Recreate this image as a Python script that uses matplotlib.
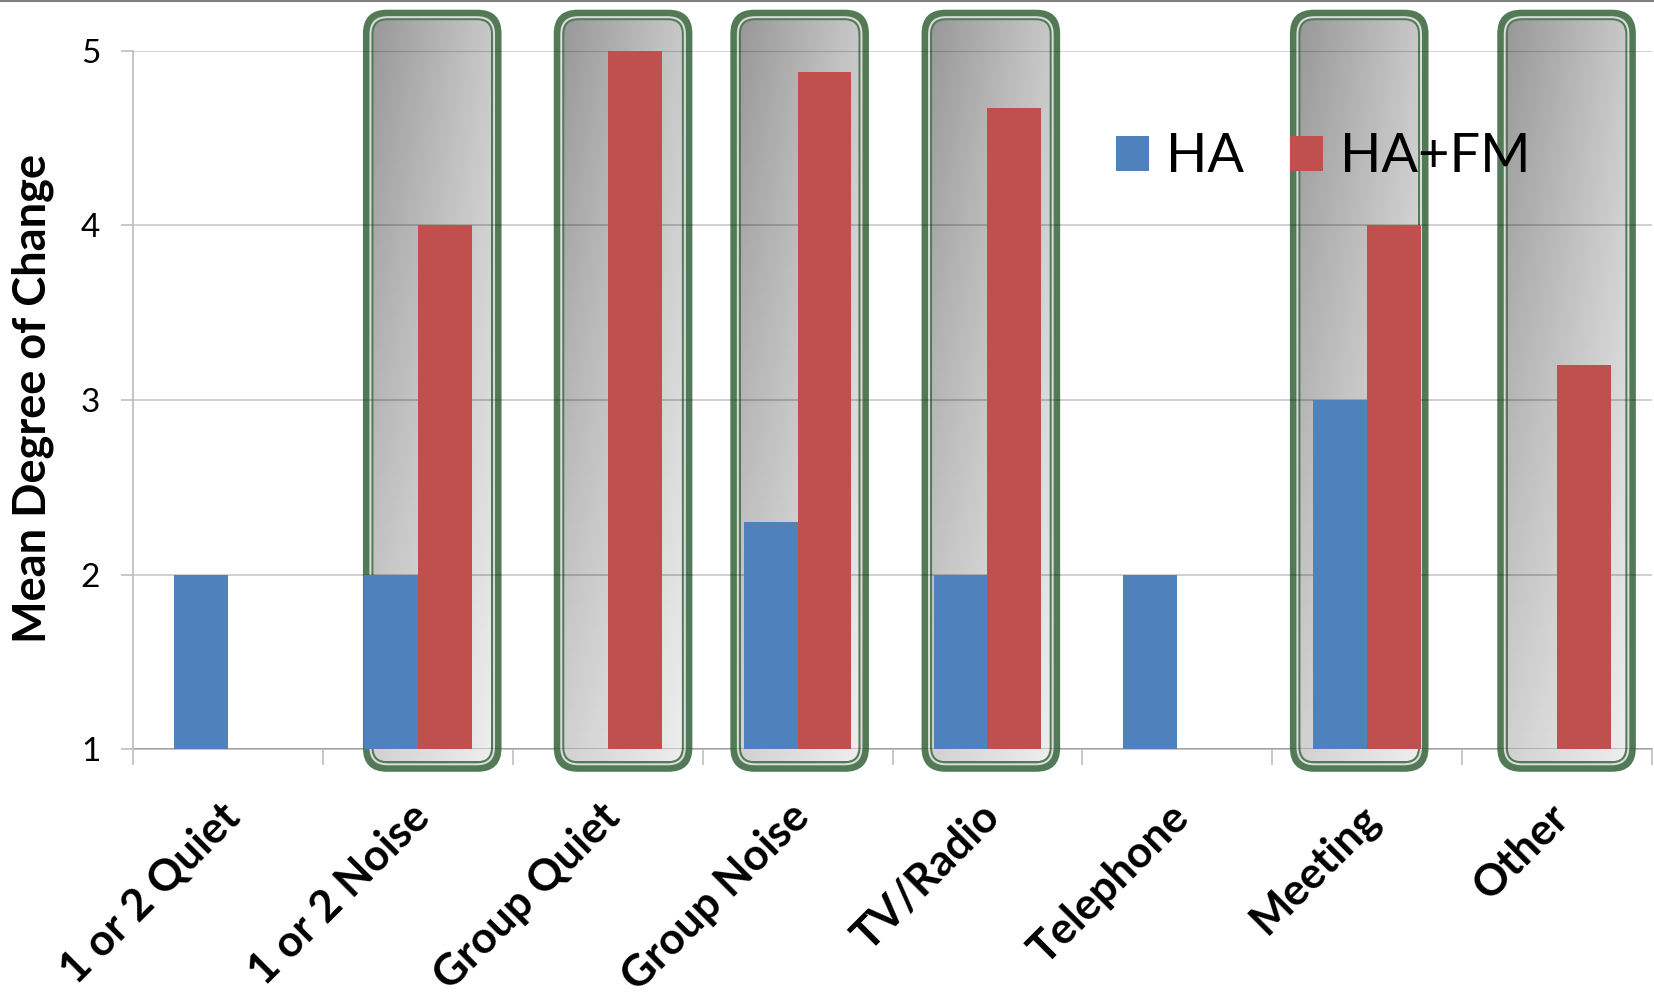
import numpy as np
import matplotlib
matplotlib.use("Agg")
import matplotlib.pyplot as plt
import matplotlib.transforms as mtransforms
from matplotlib.patches import FancyBboxPatch, Patch
from matplotlib.lines import Line2D

# mean degree of change per listening situation
categories = ["1 or 2 Quiet", "1 or 2 Noise", "Group Quiet", "Group Noise",
              "TV/Radio", "Telephone", "Meeting", "Other"]
ha_values = [2.0, 2.0, np.nan, 2.3, 2.0, 2.0, 3.0, np.nan]
ha_fm_values = [np.nan, 4.0, 5.0, 4.88, 4.67, np.nan, 4.0, 3.2]
series_names = ["HA", "HA+FM"]
yticks = [1, 2, 3, 4, 5]

# situations called out with a rounded frame
highlighted = ["1 or 2 Noise", "Group Quiet", "Group Noise", "TV/Radio", "Meeting", "Other"]
frame_nudge = [0.076, 0.081, 0.011, 0.018, -0.042, 0.05]

BLUE = "#4f81bd"
RED = "#c0504d"
GREEN = "#537a56"

plt.rcParams["font.family"] = ["Lato", "DejaVu Sans"]

W, H = 1654, 998
fig = plt.figure(figsize=(W / 100, H / 100), dpi=100)
ax = fig.add_axes([133 / W, 1 - 749.3 / H, 1519 / W, 698.6 / H])

x = np.arange(len(categories))
bw = 0.284
ax.set_xlim(-0.5, len(categories) - 0.5)
ax.set_ylim(1, 5)

ha = np.array(ha_values)
fm = np.array(ha_fm_values)
m1 = ~np.isnan(ha)
m2 = ~np.isnan(fm)
ax.bar(x[m1] - bw / 2, ha[m1], width=bw, color=BLUE, zorder=2)
ax.bar(x[m2] + bw / 2, fm[m2], width=bw, color=RED, zorder=2)

# pixel size of one data unit in each direction
p0 = ax.transData.transform((0, 0))
p1 = ax.transData.transform((1, 1))
sx, sy = p1[0] - p0[0], p1[1] - p0[1]
aspect = sx / sy


def rounded(x0, y0, w, h, r, **kw):
    return FancyBboxPatch((x0, y0), w, h,
                          boxstyle=f"round,pad=0,rounding_size={r / sx}",
                          mutation_aspect=aspect, clip_on=False, **kw)


frame_w = 138.6 / sx
y_top = 5 + 41 / sy
y_bot = 1 - 22.5 / sy
corners = np.array([[0.60, 0.78], [0.82, 0.93]])
gx, gy = np.meshgrid(np.linspace(0, 1, 64), np.linspace(0, 1, 64))
grad = (corners[0, 0] * (1 - gx) * (1 - gy) + corners[0, 1] * gx * (1 - gy)
        + corners[1, 0] * (1 - gx) * gy + corners[1, 1] * gx * gy)

for name, nudge in zip(highlighted, frame_nudge):
    cx = categories.index(name) + nudge
    left = cx - frame_w / 2
    fh = y_top - y_bot
    layers = [(0, 24, GREEN), (6.5, 18, "#dcdcdc"), (8.5, 16, GREEN)]
    for inset, r, col in layers:
        dx, dy = inset / sx, inset / sy
        ax.add_patch(rounded(left + dx, y_bot + dy, frame_w - 2 * dx, fh - 2 * dy, r,
                             facecolor=col, edgecolor="none", zorder=0.2))
    dx, dy = 10.5 / sx, 10.5 / sy
    inner = rounded(left + dx, y_bot + dy, frame_w - 2 * dx, fh - 2 * dy, 14,
                    facecolor="none", edgecolor="none", zorder=0.3)
    ax.add_patch(inner)
    im = ax.imshow(grad, cmap="gray", vmin=0, vmax=1, aspect="auto",
                   interpolation="bilinear", zorder=0.3,
                   extent=(left + dx, left + frame_w - dx, y_bot + dy, y_top - dy))
    im.set_clip_box(fig.bbox)
    im.set_clip_path(inner)

ax.set_xlim(-0.5, len(categories) - 0.5)
ax.set_ylim(1, 5)

ax.set_axisbelow(True)
ax.yaxis.grid(True, color="black", alpha=0.2, lw=1.3)
ax.set_yticks(yticks)
ax.tick_params(axis="y", length=8.6, width=1.2, color="#bfbfbf", pad=15, labelsize=24)

ax.set_xticks(x)
ax.set_xticks(np.arange(len(categories) + 1) - 0.5, minor=True)
ax.tick_params(axis="x", which="major", length=0, pad=34)
ax.tick_params(axis="x", which="minor", length=11.5, width=1.2, color="#bfbfbf")
ax.set_xticklabels(categories, rotation=45, ha="right", va="top",
                   rotation_mode="anchor", fontsize=31.5, fontweight="bold")
shift = mtransforms.ScaledTranslation(-9 / 100, 0, fig.dpi_scale_trans)
for lab in ax.get_xticklabels():
    lab.set_transform(lab.get_transform() + shift)

for side in ["top", "right"]:
    ax.spines[side].set_visible(False)
ax.spines["left"].set_color("#bfbfbf")
ax.spines["left"].set_linewidth(1.3)
ax.spines["bottom"].set_color("#bfbfbf")
ax.spines["bottom"].set_linewidth(1.3)
ax.spines["bottom"].set_zorder(0.1)

fig.text(33 / W, 1 - 398 / H, "Mean Degree of Change", rotation=90,
         ha="center", va="center", fontsize=32.5, fontweight="bold")

handles = [Patch(facecolor=BLUE, edgecolor="none"), Patch(facecolor=RED, edgecolor="none")]
ax.legend(handles, series_names, ncol=2, frameon=False, fontsize=39,
          loc="center left", bbox_to_anchor=(0.647, 0.848), borderpad=0, borderaxespad=0,
          handlelength=0.62, handleheight=0.62, handletextpad=0.3, columnspacing=0.85)

# thin rule along the top edge
fig.add_artist(Line2D([0, 1], [1 - 1 / H, 1 - 1 / H], color="#7f7f7f", lw=1.5))

fig.savefig("out.png", dpi=100)
